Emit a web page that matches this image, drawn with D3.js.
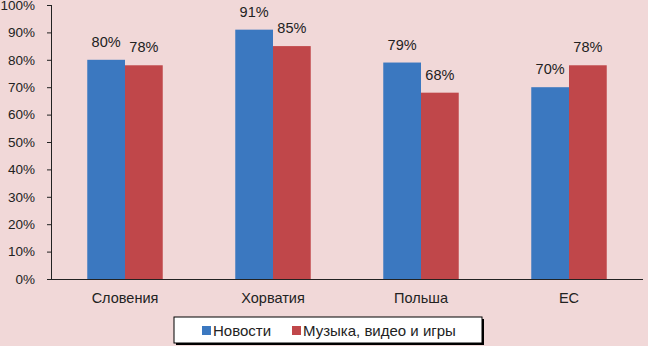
<!DOCTYPE html>
<html lang="ru">
<head>
  <meta charset="UTF-8">
  <title>Chart</title>
  <script src="https://d3js.org/d3.v7.min.js"></script>
  <style>
    body { margin: 0; background: #f1d8d8; }
    text { font-family: "Liberation Sans", Arial, sans-serif; fill: #222; }
  </style>
</head>
<body>
  <div id="root"></div>
  <script>
    // данные
    const categories = ['Словения', 'Хорватия', 'Польша', 'ЕС']
    const series = ['Новости', 'Музыка, видео и игры']
    const news = [80, 91, 79, 70]
    const music = [78, 85, 68, 78]
    const yTicks = [0, 10, 20, 30, 40, 50, 60, 70, 80, 90, 100]
    const colors = ['#3b78c0', '#c0474a']

    const W = 648, H = 346
    const m = { left: 51, right: 5, top: 5, bottom: 67 }

    const svg = d3.select('#root')
      .append('svg')
      .attr('width', W)
      .attr('height', H)
      .style('background', '#f1d8d8')

    const x = d3.scaleBand()
      .domain(categories)
      .range([m.left, W - m.right])
      .paddingInner(0.49)
      .paddingOuter(0.245)

    const x1 = d3.scaleBand()
      .domain(series)
      .range([0, x.bandwidth()])

    const y = d3.scaleLinear()
      .domain([0, 100])
      .range([H - m.bottom, m.top])

    const rows = categories.map((c, i) => ({ cat: c, vals: [news[i], music[i]] }))

    // бары
    const g = svg.append('g')
      .selectAll('g')
      .data(rows)
      .enter()
      .append('g')
      .attr('transform', d => 'translate(' + x(d.cat) + ',0)')

    g.selectAll('rect')
      .data(d => d.vals.map((v, i) => ({ s: series[i], v: v, i: i })))
      .enter()
      .append('rect')
      .attr('x', d => x1(d.s))
      .attr('width', x1.bandwidth())
      .attr('y', d => y(d.v))
      .attr('height', d => y(0) - y(d.v))
      .attr('fill', d => colors[d.i])

    g.selectAll('text.lbl')
      .data(d => d.vals.map((v, i) => ({ s: series[i], v: v })))
      .enter()
      .append('text')
      .attr('class', 'lbl')
      .attr('x', d => x1(d.s) + x1.bandwidth() / 2)
      .attr('y', d => y(d.v) - 13)
      .attr('text-anchor', 'middle')
      .style('font-size', '14.5px')
      .text(d => d.v + '%')

    // ось Y
    const yAxis = svg.append('g')
      .attr('transform', 'translate(' + m.left + ',0)')
      .call(d3.axisLeft(y).tickValues(yTicks).tickSize(4).tickPadding(12).tickFormat(d => d + '%'))
    yAxis.select('.domain').attr('d', 'M0.5,' + y(100) + 'V' + y(0)).attr('stroke', '#222')
    yAxis.selectAll('.tick line').attr('stroke', '#222')
    yAxis.selectAll('text').style('font-size', '13.5px').style('fill', '#222')

    // ось X
    const xAxis = svg.append('g')
      .attr('transform', 'translate(0,' + y(0) + ')')
      .call(d3.axisBottom(x).tickSize(0).tickPadding(14))
    xAxis.select('.domain').attr('d', 'M' + (m.left - 4) + ',0.5H' + (W - m.right)).attr('stroke', '#222')
    xAxis.selectAll('text').style('font-size', '14.5px').style('fill', '#222')

    // легенда
    const lg = svg.append('g').attr('transform', 'translate(174,317)')
    lg.append('rect').attr('x', 2).attr('y', 2).attr('width', 308).attr('height', 26).attr('fill', '#000')
    lg.append('rect').attr('width', 308).attr('height', 26).attr('fill', '#fff').attr('stroke', '#000')
    const items = [{ x: 28 }, { x: 118 }]
    series.forEach((s, i) => {
      lg.append('rect').attr('x', items[i].x).attr('y', 9).attr('width', 9).attr('height', 9).attr('fill', colors[i])
      lg.append('text').attr('x', items[i].x + 11).attr('y', 19).style('font-size', '15px').text(s)
    })
  </script>
</body>
</html>
